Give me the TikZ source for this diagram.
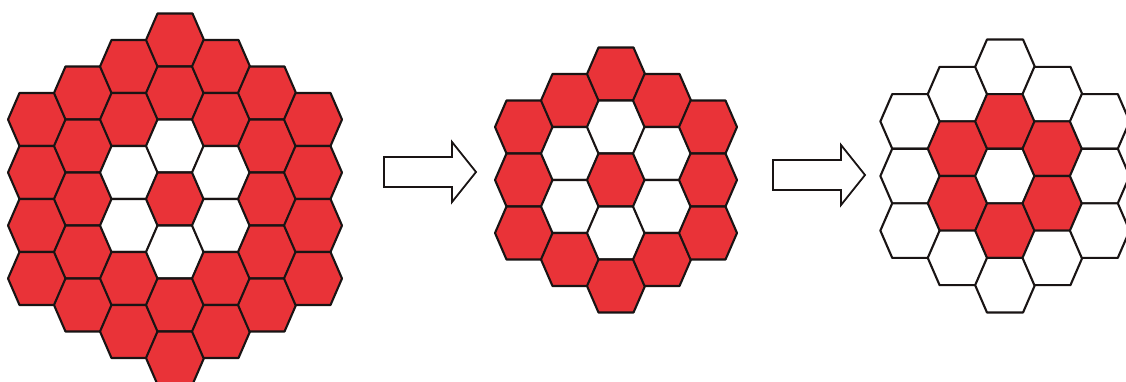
\documentclass[tikz,border=0pt]{standalone}
\usepackage{tikz}
\usetikzlibrary{calc}
\definecolor{cellred}{RGB}{233,51,56}
\definecolor{edgeblack}{RGB}{25,20,20}

% one flat-top cell: centre x, centre y, scale, fill
\newcommand{\hexcell}[4]{%
  \filldraw[fill=#4,draw=edgeblack,line width=2.1pt,line join=round,shift={(#1,#2)},scale=#3]
    (-17.5,-26.5) -- (17.5,-26.5) -- (29,0) -- (17.5,26.5) -- (-17.5,26.5) -- (-29,0) -- cycle;}

% a hexagonal cluster: centre x, centre y, scale, radius, fill of ring 1, fill of the others
\newcommand{\hexcluster}[6]{%
  \foreach \col in {-#4,...,#4}{
    \foreach \row in {-#4,...,#4}{
      \pgfmathtruncatemacro{\dist}{max(abs(\col),abs(\row),abs(\col+\row))}
      \ifnum\dist>#4\relax\else
        \ifnum\dist=1 \def\cellfill{#5}\else\def\cellfill{#6}\fi
        \pgfmathsetmacro{\cellx}{#1+46*#3*\col}
        \pgfmathsetmacro{\celly}{#2+53*#3*(\row+\col/2)}
        \hexcell{\cellx}{\celly}{#3}{\cellfill}
      \fi
    }
  }}

\begin{document}
\begin{tikzpicture}[x=1pt,y=-1pt]
\useasboundingbox (0,0) rectangle (1126,381);
\fill[white] (0,0) rectangle (1126,381);
% clusters
\hexcluster{175}{199}{1}{3}{white}{cellred}
\hexcluster{616}{180}{1}{2}{white}{cellred}
\hexcluster{1005}{176}{1.03}{2}{cellred}{white}
% block arrows
\coordinate (arrA) at (384,172);
\coordinate (arrB) at (773,175);
\foreach \a in {arrA,arrB}{\draw[fill=white,draw=edgeblack,line width=1.8pt,line join=miter] (\a) ++(0,-15) -- ++(68,0) -- ++(0,-15) -- ++(24,30) -- ++(-24,30) -- ++(0,-15) -- ++(-68,0) -- cycle;}
\end{tikzpicture}
\end{document}
